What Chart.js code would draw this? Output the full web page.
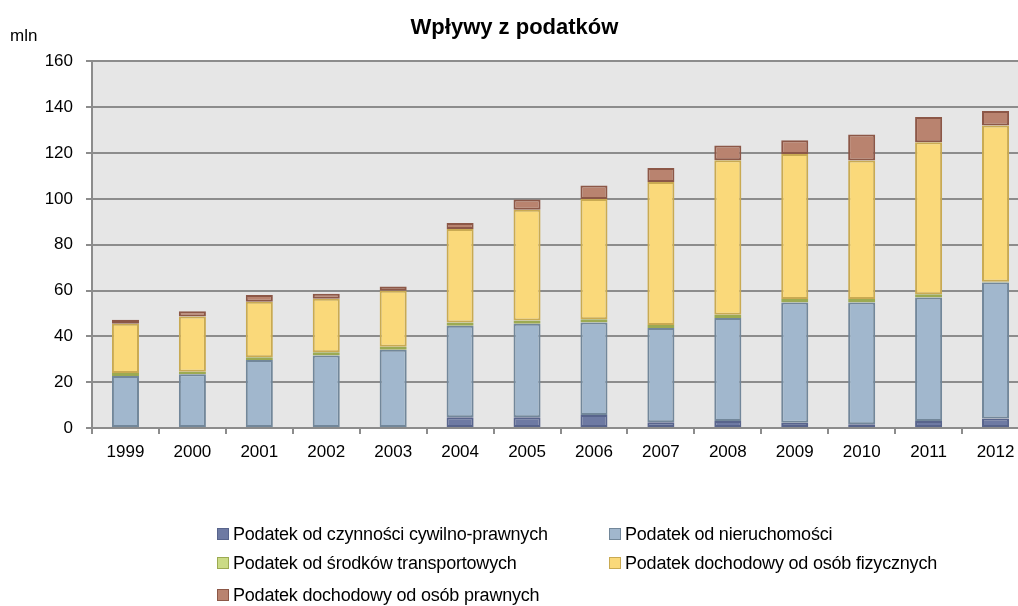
<!DOCTYPE html>
<html>
<head>
<meta charset="utf-8">
<script src="https://cdn.jsdelivr.net/npm/chart.js@4.4.1/dist/chart.umd.min.js"></script>
<style>
  html, body { margin: 0; padding: 0; background: #fff; overflow: hidden; }
  #wrap { position: relative; width: 1018px; height: 606px; overflow: hidden; }
  #box { position: absolute; left: 0; top: 0; width: 1030px; height: 606px; }
  #legend { position: absolute; left: 0; top: 0; width: 1018px; height: 606px; pointer-events: none;
            font-family: "Liberation Sans", Arial, sans-serif; font-size: 18px; color: #000; }
  .item { position: absolute; white-space: nowrap; line-height: 20px; }
  .item span.sw { position: absolute; left: 0; top: 4px; width: 10px; height: 10px; border: 1px solid; }
  .item span.tx { position: absolute; left: 16px; top: 0; letter-spacing: -0.2px; }
</style>
</head>
<body>
<div id="wrap">
  <div id="box"><canvas id="chart" width="1030" height="606"></canvas></div>
  <div id="legend"></div>
</div>
<script>
// ------------------------------
// Data (mln)
// ------------------------------
const years = ['1999', '2000', '2001', '2002', '2003', '2004', '2005', '2006', '2007', '2008', '2009', '2010', '2011', '2012'];
const czynnosci = [0, 0, 0, 0, 0, 4.7, 4.7, 5.7, 2.5, 3.1, 2.3, 1.6, 3.1, 4.2];
const nieruchomosci = [22.7, 23.5, 29.7, 31.6, 34.1, 39.9, 40.8, 40.3, 41.1, 44.9, 52.5, 53.2, 53.9, 59.3];
const transportowe = [1.3, 1.1, 1.2, 1.5, 1.4, 1.4, 1.4, 1.5, 1.4, 1.4, 1.5, 1.5, 1.4, 0.3];
const pitFizyczne = [21.5, 24.1, 24.2, 23.3, 24.4, 40.9, 48.4, 52.5, 62.4, 67.5, 63.3, 60.4, 66.3, 68.2];
const citPrawne = [1.7, 2.3, 2.9, 2.2, 1.9, 2.6, 4.4, 5.8, 6.1, 6.4, 6.0, 11.4, 11.0, 6.3];
const yTicks = [0, 20, 40, 60, 80, 100, 120, 140, 160];

const seriesLabels = [
  'Podatek od czynności cywilno-prawnych',
  'Podatek od nieruchomości',
  'Podatek od środków transportowych',
  'Podatek dochodowy od osób fizycznych',
  'Podatek dochodowy od osób prawnych'
];
const fills = ['#6e7aa3', '#a1b7cd', '#cbdb85', '#fad97a', '#b9836f'];
const borders = ['#58648c', '#72879a', '#9caa52', '#c9aa52', '#8c5747'];

const FONT = '"Liberation Sans", Arial, sans-serif';

// gray plot background + "mln" label
const plotBg = {
  id: 'plotBg',
  beforeDraw(chart) {
    const { ctx, chartArea: a } = chart;
    ctx.save();
    ctx.fillStyle = '#e6e6e6';
    ctx.fillRect(a.left, a.top, a.right - a.left, a.bottom - a.top);
    ctx.restore();
  },
  afterDraw(chart) {
    const ctx = chart.ctx;
    ctx.save();
    ctx.font = '17px ' + FONT;
    ctx.fillStyle = '#000';
    ctx.textBaseline = 'middle';
    ctx.fillText('mln', 10, 36);
    ctx.restore();
  }
};

const allData = [czynnosci, nieruchomosci, transportowe, pitFizyczne, citPrawne];

new Chart(document.getElementById('chart'), {
  type: 'bar',
  data: {
    labels: years,
    datasets: allData.map((d, i) => ({
      label: seriesLabels[i],
      data: d,
      backgroundColor: fills[i],
      borderColor: borders[i],
      // no outline on empty segments
      borderWidth: c => (c.raw ? 2 : 0),
      borderSkipped: false,
      categoryPercentage: 1,
      barPercentage: 0.404
    }))
  },
  options: {
    responsive: false,
    animation: false,
    layout: { padding: { top: 2, right: 1, bottom: 138, left: 0 } },
    plugins: {
      legend: { display: false },
      tooltip: { enabled: false },
      title: {
        display: true,
        text: 'Wpływy z podatków',
        color: '#000',
        font: { family: FONT, size: 22, weight: 'bold' },
        padding: { top: 13, bottom: 20 }
      }
    },
    scales: {
      x: {
        stacked: true,
        afterFit(s) { s.height = 40; },
        grid: { display: true, drawOnChartArea: false, drawTicks: true, tickLength: 6, color: '#8c8c8c', lineWidth: 2 },
        border: { display: true, color: '#8c8c8c', width: 2 },
        ticks: { color: '#000', font: { family: FONT, size: 17 }, padding: 8 }
      },
      y: {
        stacked: true,
        min: 0,
        max: 160,
        afterFit(s) { s.width = 92; },
        afterBuildTicks(s) { s.ticks = yTicks.map(v => ({ value: v })); },
        grid: { color: '#8c8c8c', lineWidth: 2, tickLength: 6 },
        border: { display: true, color: '#8c8c8c', width: 2 },
        ticks: { color: '#000', font: { family: FONT, size: 17 }, padding: 13 }
      }
    }
  },
  plugins: [plotBg]
});

// ------------------------------
// Legend in two columns
// ------------------------------
const legendPos = [[217, 524], [609, 524], [217, 553], [609, 553], [217, 585]];
const legend = document.getElementById('legend');
seriesLabels.forEach((txt, i) => {
  const el = document.createElement('div');
  el.className = 'item';
  el.style.left = legendPos[i][0] + 'px';
  el.style.top = legendPos[i][1] + 'px';
  el.innerHTML = '<span class="sw" style="background:' + fills[i] + ';border-color:' + borders[i] + '"></span><span class="tx">' + txt + '</span>';
  legend.appendChild(el);
});
</script>
</body>
</html>
